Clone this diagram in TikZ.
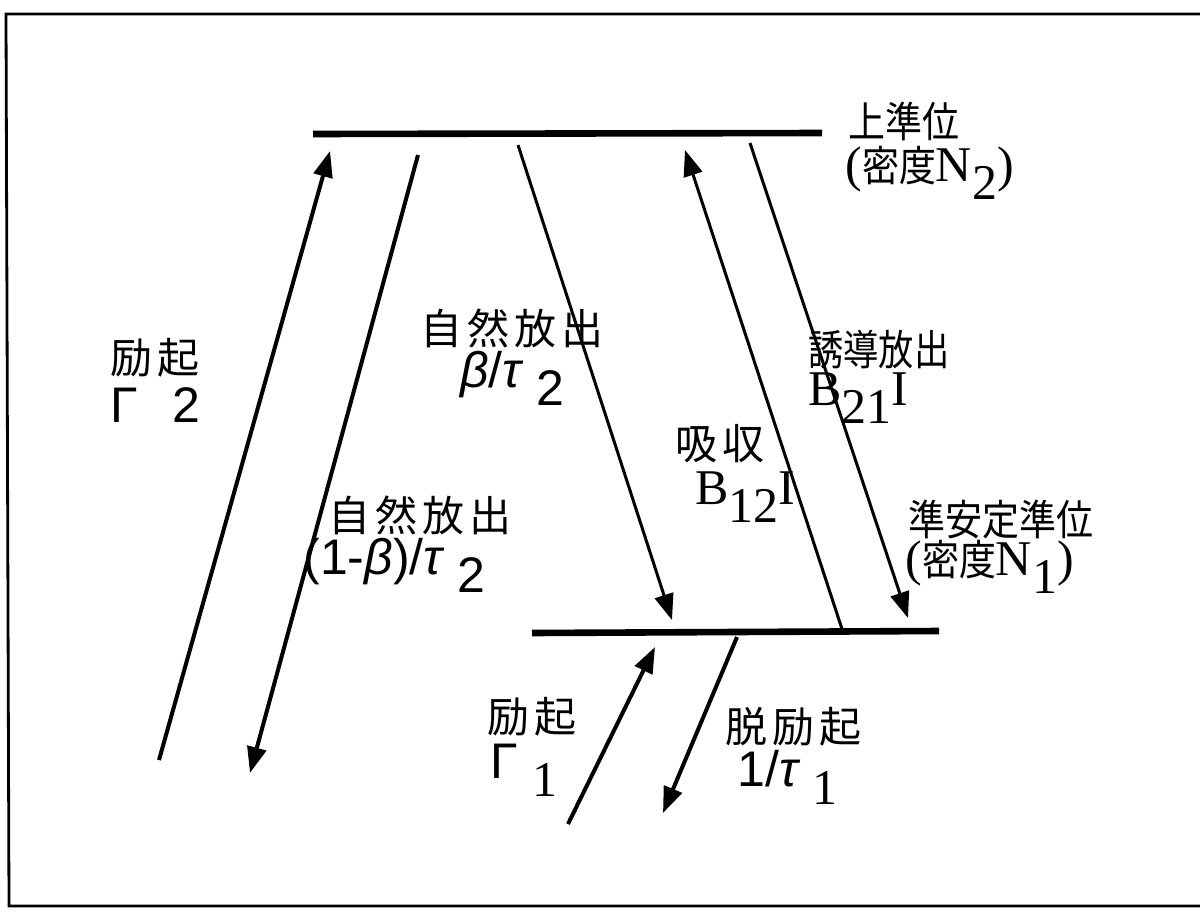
\documentclass[tikz,border=0pt]{standalone}
\usepackage{fontspec}
\setmainfont{Liberation Serif}
\newfontfamily\jp{Noto Sans CJK JP}
\newfontfamily\jpwide[LetterSpace=12]{Noto Sans CJK JP}
\newfontfamily\jpnarrow[FakeStretch=0.88]{Noto Sans CJK JP}
\newfontfamily\jpnarrower[FakeStretch=0.84]{Noto Sans CJK JP}
\newfontfamily\sans{Liberation Sans}
\usetikzlibrary{arrows.meta}
\newcommand\lowr[1]{\raisebox{-0.36em}{#1}}
\newcommand\gb{{\sans\itshape β}}
\newcommand\gt{{\sans\itshape τ}}
\begin{document}
\begin{tikzpicture}[x=0.5pt,y=-0.5pt,
  level/.style={line width=3.3pt},
  thickarr/.style={line width=2pt,-{Triangle[length=13pt,width=9.5pt]}},
  thinarr/.style={line width=1.5pt,-{Triangle[length=13pt,width=9.5pt]}},
  lbl/.style={inner sep=0pt,anchor=west,font=\fontsize{25}{30}\selectfont},
  lblj/.style={inner sep=0pt,anchor=west,text depth=0pt,font=\fontsize{21}{25}\selectfont\jpnarrow},
  lblw/.style={inner sep=0pt,anchor=west,font=\fontsize{21}{25}\selectfont\jpwide}]
\useasboundingbox (0,0) rectangle (1200,911);
\draw[line width=1.4pt] (1200,14) -- (6,14) -- (9,906) -- (1200,906);
% levels
\coordinate (U1) at (313,134); \coordinate (U2) at (822,133);
\coordinate (L1) at (532,633); \coordinate (L2) at (939,631);
\draw[level] (U1) -- (U2);
\draw[level] (L1) -- (L2);
% arrow end points
\coordinate (g2a) at (159,760); \coordinate (g2b) at (330,151);
\coordinate (s1a) at (418,155); \coordinate (s1b) at (250,773);
\coordinate (s2a) at (518,145); \coordinate (s2b) at (672,620);
\coordinate (aba) at (842,629); \coordinate (abb) at (685,150);
\coordinate (sta) at (750,143); \coordinate (stb) at (908,618);
\coordinate (g1a) at (568,824); \coordinate (g1b) at (655,647);
\coordinate (dea) at (737,637); \coordinate (deb) at (663,813);
\draw[thickarr] (g2a) -- (g2b);
\draw[thickarr] (s1a) -- (s1b);
\draw[thinarr] (s2a) -- (s2b);
\draw[thinarr] (aba) -- (abb);
\draw[thinarr] (sta) -- (stb);
\draw[thickarr] (g1a) -- (g1b);
\draw[thickarr] (dea) -- (deb);
% labels
\node[lblj] (t1) at (848,120) {上準位};
\node[lbl] (t2) at (845,173) {(\fontsize{21}{25}\selectfont\jpnarrow 密度\fontsize{25}{30}\selectfont\rmfamily N\lowr{2})};
\node[lblj,font=\fontsize{21}{25}\selectfont\jpnarrower] (t3) at (808,348) {誘導放出};
\node[lbl] (t4) at (808,398) {B\lowr{21}I};
\node[lblw] (t5) at (420,328) {自然放出};
\node[lbl] (t6) at (460,378) {\sans\gb/\gt\hspace{0.3em}\lowr{2}};
\node[lblw] (t7) at (110,358) {励起};
\node[lbl] (t8) at (110,405) {\sans Γ\hspace{0.7em}2};
\node[lblw] (t9) at (675,444) {吸収};
\node[lbl] (t10) at (695,497) {B\lowr{12}I};
\node[lblj] (t11) at (908,518) {準安定準位};
\node[lbl] (t12) at (905,567) {(\fontsize{21}{25}\selectfont\jpnarrow 密度\fontsize{25}{30}\selectfont\rmfamily N\lowr{1})};
\node[lblw] (t13) at (328,515) {自然放出};
\node[lbl] (t14) at (303,565) {\sans(1-\gb)/\gt\hspace{0.3em}\lowr{2}};
\node[lblw] (t15) at (487,717) {励起};
\node[lbl] (t16) at (490,770) {\sans Γ\hspace{0.3em}\lowr{\rmfamily 1}};
\node[lblw] (t17) at (725,727) {脱励起};
\node[lbl] (t18) at (737,777) {\sans 1/\gt\hspace{0.3em}\lowr{\rmfamily 1}};
\end{tikzpicture}
\end{document}
